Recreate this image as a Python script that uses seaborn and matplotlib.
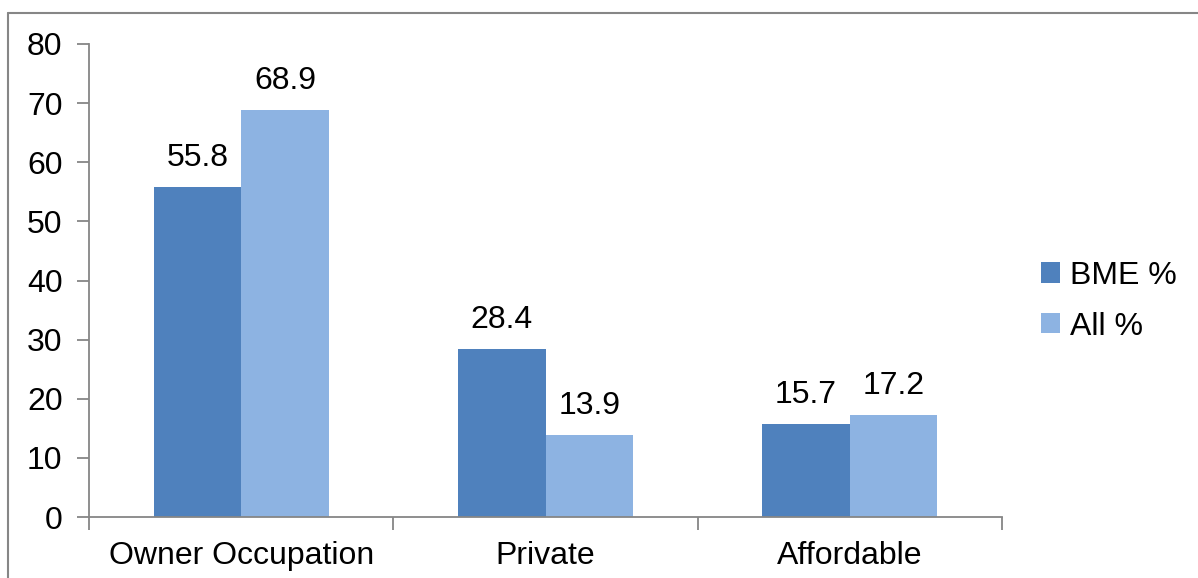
import matplotlib
matplotlib.use("Agg")
import matplotlib.pyplot as plt
import seaborn as sns
import pandas as pd
from matplotlib.patches import Patch
from matplotlib.lines import Line2D

categories = ["Owner Occupation", "Private", "Affordable"]
series_names = ["BME %", "All %"]
bme_values = [55.8, 28.4, 15.7]
all_values = [68.9, 13.9, 17.2]
yticks = [0, 10, 20, 30, 40, 50, 60, 70, 80]

colors = ["#4F81BD", "#8DB3E2"]

df = pd.DataFrame({
    "category": categories * 2,
    "series": [series_names[0]] * 3 + [series_names[1]] * 3,
    "value": bme_values + all_values,
})

sns.set_style("white")
plt.rcParams["font.family"] = ["Liberation Sans", "DejaVu Sans"]
plt.rcParams["text.color"] = "black"
plt.rcParams["xtick.color"] = "black"
plt.rcParams["ytick.color"] = "black"

FS = 23

fig = plt.figure(figsize=(11.98, 5.78), dpi=100)
ax = fig.add_axes([0.0743, 0.1055, 0.8364 - 0.0743, 0.9239 - 0.1055])

sns.barplot(data=df, x="category", y="value", hue="series", order=categories,
            hue_order=series_names, palette=colors, width=0.575, saturation=1,
            ax=ax, legend=False, linewidth=0)

for cont in ax.containers:
    ax.bar_label(cont, fmt="%.1f", padding=10, fontsize=FS, color="black")

ax.set_ylim(0, 80)
ax.set_xlim(-0.5, 2.5)
ax.set_yticks(yticks)
ax.set_yticklabels([str(t) for t in yticks], fontsize=FS, color="black")
ax.set_xticks(range(len(categories)))
ax.set_xticklabels(categories, fontsize=FS, color="black")
ax.set_xticks([-0.5, 0.5, 1.5, 2.5], minor=True)
ax.tick_params(axis="x", which="major", length=0, pad=17)
ax.tick_params(axis="x", which="minor", length=9, width=1.3, color="#868686", direction="out", bottom=True)
ax.tick_params(axis="y", which="major", length=9, width=1.3, color="#868686", direction="out", left=True, pad=10)
ax.set_xlabel("")
ax.set_ylabel("")

for s in ["top", "right"]:
    ax.spines[s].set_visible(False)
for s in ["left", "bottom"]:
    ax.spines[s].set_color("#868686")
    ax.spines[s].set_linewidth(1.3)

handles = [Patch(facecolor=c, edgecolor="none", label=n) for c, n in zip(colors, series_names)]
fig.legend(handles=handles, loc="center left", bbox_to_anchor=(0.845, 0.479), frameon=False,
           fontsize=FS, handlelength=0.6, handleheight=0.6, handletextpad=0.3, labelspacing=0.65)

# outer chart border (top and left visible)
fig.add_artist(Line2D([8 / 1198, 1.0], [1 - 13 / 578, 1 - 13 / 578], transform=fig.transFigure,
                      color="#868686", linewidth=1.5))
fig.add_artist(Line2D([8 / 1198, 8 / 1198], [0.0, 1 - 13 / 578], transform=fig.transFigure,
                      color="#868686", linewidth=1.5))

fig.savefig("out.png", dpi=100)
